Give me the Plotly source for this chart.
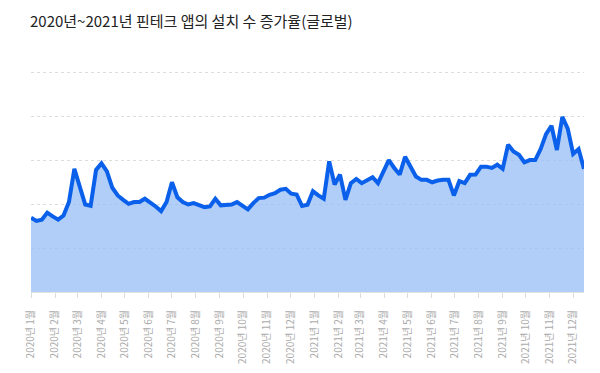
import pandas as pd
import plotly.graph_objects as go

title_text = "2020년~2021년 핀테크 앱의 설치 수 증가율(글로벌)"

start_date = "2020-01-01"

growth_values = [
    33.8, 32.3, 32.9, 36.1, 34.4, 32.9, 34.8, 40.9, 56.0, 47.6,
    39.8, 39.2, 55.5, 58.5, 54.8, 47.4, 43.9, 41.9, 40.1, 40.9,
    40.9, 42.4, 40.9, 38.9, 36.8, 40.9, 49.9, 43.1, 40.9, 39.8,
    40.4, 39.4, 38.6, 38.9, 42.4, 39.4, 39.7, 39.8, 40.9, 39.4,
    37.6, 40.4, 42.7, 42.9, 44.2, 44.9, 46.5, 46.9, 44.7, 44.3,
    39.1, 39.7, 45.8, 43.9, 42.4, 59.4, 48.9, 53.4, 41.9, 49.5,
    51.4, 49.5, 50.7, 52.2, 49.5, 54.9, 60.0, 56.4, 53.4, 61.5,
    57.0, 52.5, 51.0, 51.0, 49.9, 50.7, 51.0, 51.0, 43.9, 50.4,
    49.5, 53.3, 53.4, 57.0, 57.0, 56.4, 57.9, 56.0, 67.0, 63.9,
    62.4, 59.0, 60.0, 60.0, 65.0, 71.8, 75.6, 64.6, 79.6, 74.3,
    62.8, 65.0, 56.0,
]

tick_labels = [
    "2020년 1월", "2020년 2월", "2020년 3월", "2020년 4월", "2020년 5월", "2020년 6월",
    "2020년 7월", "2020년 8월", "2020년 9월", "2020년 10월", "2020년 11월", "2020년 12월",
    "2021년 1월", "2021년 2월", "2021년 3월", "2021년 4월", "2021년 5월", "2021년 6월",
    "2021년 7월", "2021년 8월", "2021년 9월", "2021년 10월", "2021년 11월", "2021년 12월",
]

dates = pd.date_range(start_date, periods=len(growth_values), freq="7D")
tick_dates = pd.date_range(start_date, periods=len(tick_labels), freq="MS")

# the page body has an 8px default margin, so the figure is sized to fit the window
W, H = 592, 365

fig = go.Figure()
fig.add_trace(go.Scatter(
    x=dates, y=growth_values, mode="lines",
    line=dict(color="#0a60ea", width=4, shape="linear"),
    fill="tozeroy", fillcolor="rgba(150,190,245,0.75)",
    hoverinfo="skip",
))

fig.update_layout(
    width=W, height=H,
    margin=dict(l=23, r=16, t=63, b=81, autoexpand=False),
    paper_bgcolor="white", plot_bgcolor="white",
    showlegend=False,
    font=dict(family="Noto Sans CJK KR, sans-serif"),
    title=dict(
        text=title_text, x=22 / W, xref="container", xanchor="left",
        y=1 - 14 / H, yref="container", yanchor="middle",
        font=dict(size=15, color="#222222", family="Noto Sans CJK KR, sans-serif"),
    ),
)

fig.update_xaxes(
    range=[dates[0], dates[-1]],
    tickvals=tick_dates, ticktext=tick_labels,
    tickangle=-90,
    tickfont=dict(size=10, color="#aaaaaa"),
    ticks="outside", ticklen=5, tickcolor="#dddddd", tickwidth=1,
    ticklabelstandoff=8,
    automargin=False,
    showgrid=False, showline=True, linecolor="#e3e3e3", linewidth=1,
    zeroline=False,
)
fig.update_yaxes(
    range=[0, 100.5], tickvals=[20, 40, 60, 80, 100],
    showticklabels=False, automargin=False,
    showgrid=True, gridcolor="#dddddd", griddash="dot", gridwidth=1,
    zeroline=False, showline=False,
)

fig.write_html("out.html")
